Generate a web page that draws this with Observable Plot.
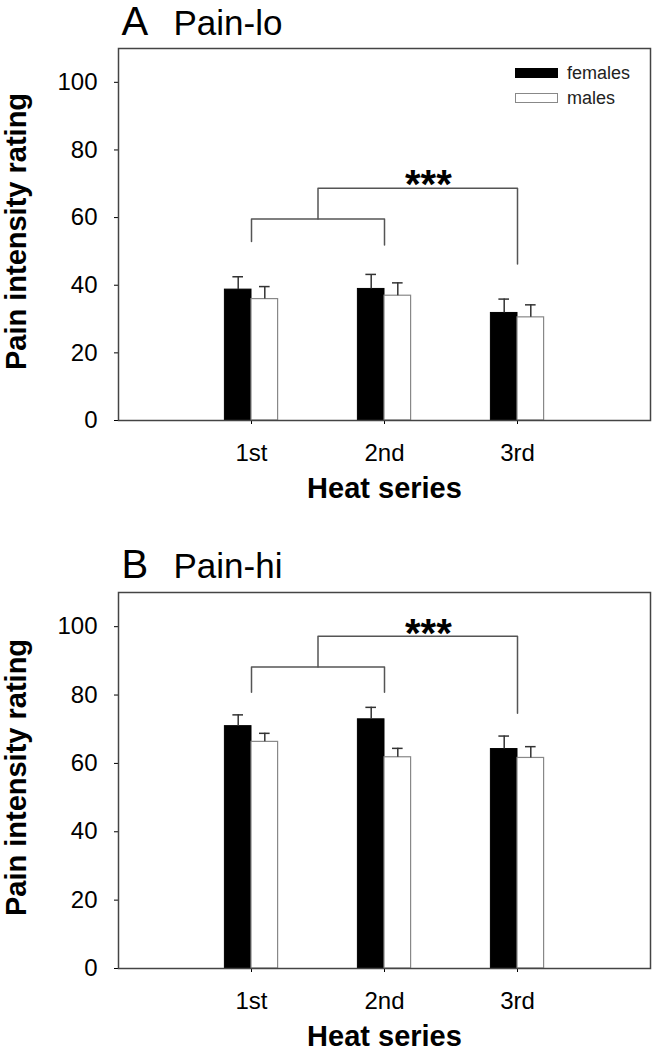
<!DOCTYPE html>
<html>
<head>
<meta charset="utf-8">
<script src="https://cdn.jsdelivr.net/npm/d3@7"></script>
<script src="https://cdn.jsdelivr.net/npm/@observablehq/plot@0.6"></script>
<style>
  body { margin: 0; background: #fff; font-family: "Liberation Sans", Arial, sans-serif; }
  #wrap { position: relative; width: 659px; height: 1050px; overflow: hidden; }
  #wrap svg { display: block; }
  .lg-box { position: absolute; width: 43px; height: 10px; box-sizing: border-box; }
  .lg-text { position: absolute; font-size: 18px; line-height: 18px; color: #222; white-space: nowrap; }
</style>
</head>
<body>
<div id="wrap"></div>
<script>
// ---- data ----
const seriesLabels = ["1st", "2nd", "3rd"];
const groups = ["females", "males"];
const yTicks = [0, 20, 40, 60, 80, 100];

// Panel A: Pain-lo (means and SEM)
const loFemales = [38.7, 38.9, 31.8];
const loFemalesErr = [3.8, 4.3, 4.1];
const loMales = [35.9, 36.9, 30.5];
const loMalesErr = [3.7, 3.8, 3.7];
// bracket levels: [inner left leg, inner right leg, inner level, outer level, outer right leg]
const loBracket = [52.9, 51.9, 59.6, 68.7, 46.3];
const loStars = [2.33, 69.6];

// Panel B: Pain-hi
const hiFemales = [70.9, 72.9, 64.2];
const hiFemalesErr = [3.3, 3.5, 3.8];
const hiMales = [66.3, 61.8, 61.6];
const hiMalesErr = [2.5, 2.6, 3.3];
const hiBracket = [80.8, 80.8, 88.2, 97.2, 74.7];
const hiStars = [2.33, 97.7];

const FONT = "'Liberation Sans', Arial, sans-serif";
const BW = 0.2; // bar width in x units

function rowsFor(f, fe, m, me) {
  const rows = [];
  seriesLabels.forEach((s, i) => {
    rows.push({pos: i + 1, group: groups[0], value: f[i], err: fe[i], x1: i + 1 - BW, x2: i + 1, cx: i + 1 - BW / 2});
    rows.push({pos: i + 1, group: groups[1], value: m[i], err: me[i], x1: i + 1, x2: i + 1 + BW, cx: i + 1 + BW / 2});
  });
  return rows;
}

function bracketLines(b) {
  const [legL, legR, inner, outer, outerLeg] = b;
  return [
    {k: "inner", x: 1, y: legL}, {k: "inner", x: 1, y: inner}, {k: "inner", x: 2, y: inner}, {k: "inner", x: 2, y: legR},
    {k: "outer", x: 1.5, y: inner}, {k: "outer", x: 1.5, y: outer}, {k: "outer", x: 3, y: outer}, {k: "outer", x: 3, y: outerLeg}
  ];
}

function panel(cfg) {
  const rows = rowsFor(cfg.f, cfg.fe, cfg.m, cfg.me);
  const fem = rows.filter(d => d.group === "females");
  const mal = rows.filter(d => d.group === "males");
  return Plot.plot({
    width: 659,
    height: cfg.height,
    marginLeft: 118,
    marginRight: 9,
    marginTop: cfg.marginTop,
    marginBottom: cfg.marginBottom,
    x: {domain: [0, 4]},
    y: {domain: [0, 110]},
    style: {fontFamily: FONT, color: "#000", background: "transparent", overflow: "visible"},
    marks: [
      Plot.axisY({ticks: yTicks, tickSize: 4, tickPadding: 17, fontSize: 24, label: null}),
      Plot.axisX({ticks: [1, 2, 3], tickFormat: d => seriesLabels[d - 1], tickSize: 4, tickPadding: 19, fontSize: 24, label: null}),
      Plot.rect(fem, {x1: "x1", x2: "x2", y1: 0, y2: "value", fill: "#000", stroke: "#000", strokeWidth: 1}),
      Plot.rect(mal, {x1: "x1", x2: "x2", y1: 0, y2: "value", fill: "#fff", stroke: "#888", strokeWidth: 1.2}),
      Plot.ruleX(rows, {x: "cx", y1: "value", y2: d => d.value + d.err, stroke: "#333", strokeWidth: 1.5}),
      Plot.ruleY(rows, {y: d => d.value + d.err, x1: d => d.cx - 0.04, x2: d => d.cx + 0.04, stroke: "#333", strokeWidth: 1.5}),
      Plot.line(bracketLines(cfg.bracket), {x: "x", y: "y", z: "k", stroke: "#555", strokeWidth: 1.5}),
      Plot.text([cfg.stars], {x: d => d[0], y: d => d[1], text: () => "***", fontSize: 40, fontWeight: "bold", fill: "#000"}),
      Plot.frame({stroke: "#444", strokeWidth: 1.5}),
      Plot.text([cfg.letter], {frameAnchor: "top-left", textAnchor: "start", lineAnchor: "bottom", dx: 3, dy: cfg.titleDy, fontSize: 40, fill: "#000"}),
      Plot.text([cfg.name], {frameAnchor: "top-left", textAnchor: "start", lineAnchor: "bottom", dx: 55, dy: cfg.titleDy, fontSize: 35, fill: "#000"}),
      Plot.text(["Pain intensity rating"], {frameAnchor: "left", textAnchor: "middle", lineAnchor: "middle", rotate: -90, dx: -102, dy: -3, fontSize: 29, fontWeight: "bold", fill: "#000"}),
      Plot.text(["Heat series"], {frameAnchor: "bottom", textAnchor: "middle", lineAnchor: "bottom", dy: 77, fontSize: 29, fontWeight: "bold", fill: "#000"})
    ]
  });
}

const wrap = document.getElementById("wrap");
wrap.appendChild(panel({
  f: loFemales, fe: loFemalesErr, m: loMales, me: loMalesErr,
  bracket: loBracket, stars: loStars, letter: "A", name: "Pain-lo",
  height: 520, marginTop: 48, marginBottom: 100, titleDy: -14
}));
wrap.appendChild(panel({
  f: hiFemales, fe: hiFemalesErr, m: hiMales, me: hiMalesErr,
  bracket: hiBracket, stars: hiStars, letter: "B", name: "Pain-hi",
  height: 530, marginTop: 72, marginBottom: 82, titleDy: -15
}));

// legend (panel A)
const legend = [
  {label: groups[0], fill: "#000", border: "#000", top: 68},
  {label: groups[1], fill: "#fff", border: "#888", top: 93}
];
legend.forEach(item => {
  const box = document.createElement("div");
  box.className = "lg-box";
  box.style.left = "515px";
  box.style.top = item.top + "px";
  box.style.background = item.fill;
  box.style.border = "1.2px solid " + item.border;
  wrap.appendChild(box);
  const t = document.createElement("div");
  t.className = "lg-text";
  t.style.left = "567px";
  t.style.top = (item.top - 4) + "px";
  t.textContent = item.label;
  wrap.appendChild(t);
});
</script>
</body>
</html>
